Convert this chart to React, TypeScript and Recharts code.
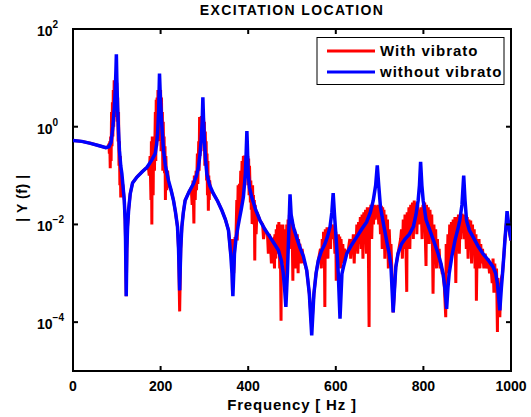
import { LineChart, Line, XAxis, YAxis, ReferenceArea } from 'recharts';

// frequency axis (Hz) and |Y(f)|, stored as log10 magnitudes
const blueFreq = [
  0, 20, 40, 60, 75, 82, 87, 91, 94, 96.5,
  98, 99, 100, 101.8, 104, 106, 109, 111.6, 114, 117,
  119, 120, 121.5, 123, 124.6, 127, 130.7, 136, 146, 158,
  169, 180, 187.7, 191, 193, 195.5, 197.5, 199, 200.7, 203,
  206.6, 211, 218, 224, 229.5, 234, 238.6, 241, 243.5, 246,
  248.5, 252, 256, 265, 275, 282, 286.4, 290, 292.6, 295,
  296.5, 298, 300, 302.5, 305.5, 312, 320.6, 330, 339.8, 348,
  355, 360, 363, 365, 367, 368.6, 372, 377.7, 384, 389,
  393.6, 395.5, 397, 398.5, 400, 403, 408, 417, 427, 438,
  450, 460, 469, 476, 480, 483, 486, 488, 489.5, 492.5,
  495.5, 498, 503, 510, 518, 526, 533.6, 539.6, 545, 550,
  555, 560, 567, 575, 581, 586.8, 591, 594, 597, 600,
  603, 605.7, 609.6, 614, 618, 625, 636, 647.6, 659, 670.5,
  679, 685.5, 691, 694.7, 698, 702, 709, 716, 722, 726,
  731, 737, 742, 750, 758, 768, 777, 783, 788, 791,
  793.6, 796.5, 799.5, 806, 814.8, 824, 833.7, 840, 845, 849,
  853, 856, 858.8, 865, 872, 878, 883, 888, 892, 895,
  898.5, 905, 913.6, 925, 936, 948, 959, 965, 969, 974.5,
  978, 980.6, 984, 986, 989, 991, 994, 997, 1000,
];
const blueLog = [
  -0.28, -0.3, -0.34, -0.39, -0.43, -0.41, -0.32, 0.0, 0.35, 0.75,
  1.15, 1.48, 1.0, 0.4, -0.1, -0.48, -0.8, -0.96, -1.2, -1.5,
  -1.9, -2.33, -3.47, -2.5, -2.05, -1.7, -1.37, -1.15, -1.03, -0.92,
  -0.83, -0.68, -0.55, -0.35, -0.14, 0.3, 1.09, 0.7, 0.4, 0.0,
  -0.48, -0.8, -1.1, -1.3, -1.51, -1.75, -2.05, -2.5, -3.35, -2.5,
  -2.05, -1.75, -1.51, -1.33, -1.17, -1.0, -0.83, -0.55, -0.28, 0.1,
  0.6, 0.15, -0.28, -0.65, -0.96, -1.2, -1.37, -1.52, -1.71, -1.9,
  -2.12, -2.6, -3.0, -3.47, -3.0, -2.6, -2.3, -1.99, -1.7, -1.44,
  -0.96, -0.5, -0.09, -0.5, -0.96, -1.25, -1.44, -1.7, -1.92, -2.1,
  -2.26, -2.4, -2.53, -2.75, -3.0, -3.3, -3.69, -3.3, -3.0, -2.19,
  -1.385, -1.8, -2.05, -2.25, -2.47, -2.65, -2.94, -3.42, -4.27, -3.42,
  -3.0, -2.74, -2.55, -2.4, -2.25, -2.05, -1.75, -1.36, -1.8, -2.19,
  -2.6, -3.01, -3.93, -3.01, -2.85, -2.6, -2.42, -2.26, -2.1, -1.95,
  -1.75, -1.51, -1.2, -0.79, -1.2, -1.65, -2.0, -2.33, -2.6, -2.87,
  -3.8, -2.87, -2.6, -2.4, -2.3, -2.2, -2.05, -1.8, -1.51, -1.2,
  -0.72, -1.2, -1.51, -1.9, -2.12, -2.35, -2.6, -2.8, -3.01, -3.3,
  -3.73, -3.3, -3.01, -2.65, -2.33, -2.12, -1.92, -1.6, -1.0, -1.5,
  -1.92, -2.12, -2.26, -2.45, -2.6, -2.73, -2.87, -3.0, -3.21, -3.76,
  -3.3, -3.01, -2.6, -2.33, -2.0, -1.73, -1.95, -2.15, -2.33,
];

const redFreq = [
  0, 20, 40, 60, 75, 80, 82, 83, 84, 85,
  86, 87, 88, 89, 90, 91, 92, 93, 94, 95,
  96, 97, 98, 99, 100, 101, 102, 103, 104, 105,
  106, 107, 108, 109, 110, 111, 114, 117, 119, 120,
  121.5, 123, 124.6, 127, 130.7, 136, 146, 158, 169, 172,
  174, 176, 178, 179, 180, 181, 183, 184, 186, 188,
  189, 190, 191, 192, 193, 194, 195, 196, 197, 198,
  199, 200, 201, 202, 203, 204, 205, 206, 207, 208,
  209, 210, 211, 212, 214, 216, 218, 224, 229.5, 234,
  238.6, 241, 243.5, 246, 248.5, 252, 256, 265, 270, 272,
  274, 276, 277, 279, 281, 282, 284, 285, 287, 288,
  289, 290, 291, 292, 293, 294, 295, 296, 298, 299,
  300, 301, 302, 303, 304, 305, 306, 307, 308, 309,
  310, 311, 312, 314, 320.6, 330, 339.8, 348, 355, 360,
  363, 364, 366, 367, 368.6, 370, 372, 374, 375, 377,
  378, 380, 381, 383, 384, 386, 387, 389, 390, 391,
  392, 393, 395, 396, 398, 399, 400, 401, 402, 403,
  405, 406, 407, 408, 409, 410, 411, 412, 413, 414,
  415, 416, 418, 420, 427, 433, 435, 438, 444, 446,
  448, 450, 453, 455, 458, 460, 461, 463, 464, 466,
  467, 469, 470, 472, 473, 475, 476, 478, 479, 481,
  482, 484, 485, 487, 488, 490, 491, 493, 494, 496,
  497, 499, 500, 502, 503, 505, 506, 508, 509, 511,
  512, 514, 515, 517, 518, 521, 523, 526, 533.6, 539.6,
  545, 550, 555, 560, 565, 567, 569, 571, 572, 574,
  575, 576, 578, 580, 582, 583, 585, 586, 588, 589,
  591, 592, 594, 596, 598, 600, 601, 603, 605, 606,
  608, 609, 611, 612, 614, 616, 618, 620, 623, 628,
  632, 634, 636, 638, 640, 642, 644, 646, 648, 650,
  652, 654, 656, 658, 660, 662, 664, 666, 668, 670,
  672, 674, 676, 677, 679, 680, 682, 684, 686, 688,
  690, 692, 694, 696, 698, 700, 702, 704, 706, 707,
  709, 710, 712, 714, 716, 718, 720, 722, 724, 726,
  731, 737, 742, 748, 750, 752, 754, 756, 758, 760,
  762, 763, 765, 767, 769, 771, 773, 775, 777, 779,
  781, 783, 785, 787, 789, 791, 793, 795, 797, 799,
  801, 803, 805, 806, 807, 809, 811, 813, 815, 817,
  819, 821, 822, 824, 826, 828, 830, 832, 834, 836,
  838, 840, 843, 845, 848, 851, 852, 854, 856, 858,
  860, 862, 864, 866, 868, 870, 872, 874, 876, 878,
  880, 882, 884, 886, 888, 890, 892, 894, 896, 898,
  900, 902, 904, 906, 908, 910, 912, 914, 916, 918,
  920, 921, 923, 925, 927, 929, 931, 933, 935, 938,
  941, 944, 948, 951, 954, 957, 959, 961, 963, 965,
  967, 969, 970, 972, 974.5, 976, 978, 980.6, 984, 986,
  989, 991, 994, 997, 1000,
];
const redLog = [
  -0.28, -0.3, -0.34, -0.39, -0.43, -0.42, -0.35, -0.55, -0.3, -0.85,
  -0.2, -0.7, 0.3, -0.4, 0.5, -0.2, 0.75, 0.0, 0.95, 0.2,
  0.9, 0.3, 0.95, 0.4, 0.9, 0.1, 0.6, -0.3, 0.3, -0.8,
  -0.3, -1.2, -0.6, -1.45, -0.9, -1.1, -1.2, -1.5, -1.9, -2.33,
  -3.47, -2.5, -2.05, -1.7, -1.37, -1.15, -1.03, -0.92, -0.83, -0.8,
  -1.0, -0.6, -1.5, -0.3, -2.0, -0.2, -1.4, -0.25, -0.9, 0.3,
  -0.7, 0.55, -0.4, 0.6, -0.2, 0.75, 0.1, 0.75, -0.3, 0.7,
  -0.1, 0.75, -0.5, 0.6, -0.2, 0.3, -0.9, 0.1, -0.6, -0.2,
  -0.95, -0.4, -1.5, -0.6, -1.3, -0.9, -1.15, -1.3, -1.51, -1.75,
  -2.05, -2.5, -3.78, -2.5, -2.05, -1.75, -1.51, -1.33, -1.25, -1.6,
  -1.1, -1.98, -1.0, -1.5, -0.9, -1.3, -0.55, -1.17, -0.3, -0.9,
  0.2, -0.6, 0.15, -0.3, 0.22, -0.2, 0.2, -0.1, 0.2, -0.5,
  0.1, -0.8, -0.1, -0.6, -0.3, -1.1, -0.55, -1.4, -0.7, -1.72,
  -1.0, -1.5, -1.1, -1.3, -1.37, -1.52, -1.71, -1.9, -2.12, -2.6,
  -2.3, -3.35, -2.8, -3.0, -2.6, -2.26, -2.3, -1.5, -2.33, -1.2,
  -2.0, -1.17, -1.7, -0.9, -1.5, -0.7, -1.3, -0.6, -1.0, -0.59,
  -1.2, -0.6, -0.9, -0.6, -0.9, -0.6, -1.2, -0.65, -1.4, -0.8,
  -1.55, -1.1, -1.7, -1.2, -1.99, -1.2, -1.8, -1.4, -2.0, -1.5,
  -2.74, -1.6, -2.2, -1.75, -1.92, -2.0, -2.3, -2.1, -2.2, -2.6,
  -2.2, -2.26, -2.8, -2.35, -2.3, -2.9, -2.2, -2.7, -2.1, -2.6,
  -2.0, -2.5, -1.95, -2.9, -2.0, -3.97, -2.1, -2.8, -2.0, -2.6,
  -2.1, -3.1, -2.2, -2.9, -2.0, -2.6, -1.9, -2.3, -1.8, -2.1,
  -1.78, -2.5, -1.9, -3.15, -2.0, -2.7, -2.1, -2.9, -2.2, -2.6,
  -2.2, -3.0, -2.3, -2.7, -2.4, -2.8, -2.5, -2.7, -2.94, -3.42,
  -4.1, -3.42, -3.0, -2.74, -2.5, -2.9, -2.3, -2.8, -2.15, -2.6,
  -3.69, -2.1, -2.5, -2.06, -2.7, -2.1, -2.4, -2.06, -2.5, -2.1,
  -2.3, -2.0, -2.2, -2.1, -2.6, -2.15, -3.15, -2.2, -2.8, -2.2,
  -2.6, -2.25, -2.9, -2.3, -2.7, -2.4, -2.8, -2.5, -2.6, -2.55,
  -2.3, -2.7, -2.3, -2.6, -2.2, -2.8, -2.2, -2.5, -2.0, -2.6,
  -1.95, -2.4, -1.85, -2.5, -1.8, -2.7, -1.75, -2.3, -1.7, -2.6,
  -1.65, -2.2, -4.1, -1.65, -2.1, -1.6, -2.3, -1.6, -2.0, -1.6,
  -1.9, -1.62, -1.8, -1.6, -2.0, -1.6, -2.2, -1.62, -2.5, -1.65,
  -2.3, -1.7, -2.7, -1.8, -2.4, -1.9, -2.9, -2.1, -2.6, -2.4,
  -3.8, -2.87, -2.6, -2.3, -2.1, -2.7, -1.9, -2.5, -1.8, -2.4,
  -3.38, -1.75, -2.2, -1.65, -2.5, -1.6, -2.1, -1.55, -2.3, -1.51,
  -2.0, -1.55, -2.2, -1.6, -2.0, -1.7, -1.9, -1.65, -2.3, -1.6,
  -2.1, -1.55, -2.5, -2.85, -1.6, -2.2, -1.65, -2.4, -1.7, -2.2,
  -1.8, -2.6, -3.42, -2.0, -2.5, -2.1, -2.9, -2.3, -2.7, -2.5,
  -2.9, -2.8, -3.0, -3.01, -3.3, -3.9, -2.4, -3.0, -2.2, -2.9,
  -2.0, -2.8, -1.95, -2.6, -1.9, -2.5, -1.85, -3.2, -1.85, -2.4,
  -1.8, -2.6, -1.8, -2.3, -1.78, -2.1, -1.8, -2.3, -1.8, -2.5,
  -1.85, -2.7, -1.9, -2.4, -1.92, -2.8, -2.0, -2.5, -2.1, -2.9,
  -2.2, -3.56, -2.3, -2.7, -2.3, -2.9, -2.4, -2.8, -2.5, -2.9,
  -2.6, -2.9, -2.7, -3.0, -2.8, -3.2, -2.7, -3.4, -2.8, -3.3,
  -2.9, -4.2, -3.1, -3.6, -3.9, -3.4, -3.1, -3.01, -2.6, -2.33,
  -2.0, -1.9, -2.0, -2.2, -2.33,
];

const xTicks = [0, 200, 400, 600, 800, 1000];
const yTicks = [1e-4, 1e-2, 1, 100];
const seriesNames = ['With vibrato', 'without vibrato'];
const seriesColors = ['#ff0000', '#0000ff'];

const FONT = '"Liberation Sans", Arial, Helvetica, sans-serif';
const LEFT = 73;
const RIGHT = 511;
const TOP = 29;
const BOTTOM = 371;

const redData = redFreq.map((f, i) => ({ f, v: 10 ** redLog[i] }));
const blueData = blueFreq.map((f, i) => ({ f, v: 10 ** blueLog[i] }));

function XTick({ x, payload }: any) {
  const v = payload.value;
  const inner = v > 0 && v < 1000;
  return (
    <g>
      {inner && <line x1={x} x2={x} y1={BOTTOM} y2={BOTTOM - 5} stroke="#000" strokeWidth={2} />}
      {inner && <line x1={x} x2={x} y1={TOP} y2={TOP + 5} stroke="#000" strokeWidth={2} />}
      <text x={x} y={391} textAnchor="middle" fontFamily={FONT} fontWeight="bold" fontSize={14} fill="#000">
        {v}
      </text>
    </g>
  );
}

function YTick({ y, payload }: any) {
  const exp = Math.round(Math.log10(payload.value));
  const inner = exp < 2;
  return (
    <g>
      {inner && <line x1={LEFT} x2={LEFT + 5} y1={y} y2={y} stroke="#000" strokeWidth={2} />}
      {inner && <line x1={RIGHT} x2={RIGHT - 5} y1={y} y2={y} stroke="#000" strokeWidth={2} />}
      <text x={37} y={y + 7} fontFamily={FONT} fontWeight="bold" fontSize={14} fill="#000">
        10
        <tspan dy={-8} fontSize={10}>{exp < 0 ? '\u2212' + Math.abs(exp) : exp}</tspan>
      </text>
    </g>
  );
}

export default function App() {
  return (
    <div style={{ position: 'fixed', left: 0, top: 0, width: 531, height: 417, background: '#fff' }}>
      <LineChart width={531} height={417} margin={{ top: TOP, right: 531 - RIGHT, bottom: 0, left: 0 }}>
        <XAxis
          type="number"
          dataKey="f"
          domain={[0, 1000]}
          ticks={xTicks}
          height={417 - BOTTOM}
          axisLine={false}
          tickLine={false}
          tick={<XTick />}
          allowDataOverflow
        />
        <YAxis
          type="number"
          scale="log"
          domain={[1e-5, 100]}
          ticks={yTicks}
          width={LEFT}
          axisLine={false}
          tickLine={false}
          tick={<YTick />}
          allowDataOverflow
        />
        <Line data={redData} dataKey="v" name={seriesNames[0]} stroke={seriesColors[0]} strokeWidth={3} dot={false} isAnimationActive={false} />
        <Line data={blueData} dataKey="v" name={seriesNames[1]} stroke={seriesColors[1]} strokeWidth={3.5} dot={false} isAnimationActive={false} />
        <ReferenceArea x1={0} x2={1000} y1={1e-5} y2={100} fill="none" fillOpacity={0} stroke="#000" strokeWidth={2} ifOverflow="visible" />
      </LineChart>
      <svg width={531} height={417} style={{ position: 'absolute', left: 0, top: 0, pointerEvents: 'none' }}>
        <text x={292} y={15} textAnchor="middle" fontFamily={FONT} fontWeight="bold" fontSize={14} letterSpacing={1.35}>
          EXCITATION LOCATION
        </text>
        <text x={292} y={410} textAnchor="middle" fontFamily={FONT} fontWeight="bold" fontSize={15} letterSpacing={0.8}>
          Frequency [ Hz ]
        </text>
        <text x={0} y={0} transform="translate(27,198) rotate(-90)" textAnchor="middle" fontFamily={FONT} fontWeight="bold" fontSize={14} letterSpacing={0.6}>
          | Y (f) |
        </text>
        <rect x={317} y={37.5} width={187} height={47} fill="#fff" stroke="#000" strokeWidth={1} />
        {seriesNames.map((name, i) => (
          <g key={name}>
            <line x1={327} x2={375} y1={51 + i * 21} y2={51 + i * 21} stroke={seriesColors[i]} strokeWidth={3} />
            <text x={380} y={56 + i * 21} fontFamily={FONT} fontWeight="bold" fontSize={15} letterSpacing={1}>
              {name}
            </text>
          </g>
        ))}
      </svg>
    </div>
  );
}
